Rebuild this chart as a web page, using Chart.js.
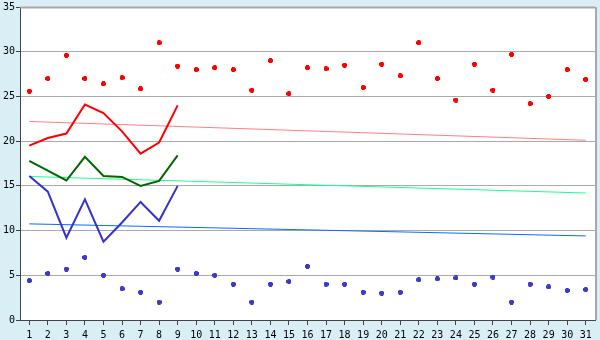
<!DOCTYPE html>
<html>
<head>
<meta charset="utf-8">
<script src="https://cdn.jsdelivr.net/npm/chart.js@4"></script>
<style>
  body { margin: 0; background: #daeff5; }
  canvas { display: block; }
</style>
</head>
<body>
<canvas id="chart" width="600" height="340"></canvas>
<script>
  const days = ["1","2","3","4","5","6","7","8","9","10","11","12","13","14","15","16",
    "17","18","19","20","21","22","23","24","25","26","27","28","29","30","31"];

  const maxPoints = [25.6, 27.0, 29.6, 27.0, 26.4, 27.1, 25.85, 31.0, 28.4, 28.0, 28.2,
    28.0, 25.7, 29.0, 25.3, 28.2, 28.1, 28.5, 26.0, 28.6, 27.3, 31.0, 27.0, 24.6,
    28.6, 25.7, 29.7, 24.2, 25.0, 28.0, 26.9];
  const minPoints = [4.4, 5.2, 5.7, 7.0, 5.0, 3.5, 3.1, 2.0, 5.7, 5.2, 5.0, 4.0, 2.0,
    4.0, 4.3, 6.0, 4.0, 4.0, 3.1, 3.0, 3.1, 4.5, 4.6, 4.7, 4.0, 4.8, 2.0, 4.0, 3.7,
    3.3, 3.4];

  const maxLine = [19.5, 20.35, 20.85, 24.1, 23.15, 21.1, 18.6, 19.85, 24.0];
  const avgLine = [17.8, 16.7, 15.6, 18.25, 16.1, 16.0, 15.0, 15.55, 18.4];
  const minLine = [16.1, 14.35, 9.2, 13.5, 8.75, 10.9, 13.2, 11.1, 15.0];

  // trend lines: value at day 1 and day 31
  const maxTrend = [22.2, 20.1];
  const avgTrend = [16.05, 14.2];
  const minTrend = [10.75, 9.4];

  const yTicks = [0, 5, 10, 15, 20, 25, 30, 35];

  function marker(color) {
    const c = document.createElement("canvas");
    c.width = 5;
    c.height = 5;
    const ctx = c.getContext("2d");
    ctx.fillStyle = color;
    ctx.fillRect(1, 0, 3, 5);
    ctx.fillRect(0, 1, 5, 3);
    ctx.fillRect(2, 0, 1, 5);
    return c;
  }

  function trend(vals) {
    return [{ x: days[0], y: vals[0] }, { x: days[days.length - 1], y: vals[1] }];
  }

  const frame = {
    id: "frame",
    afterDraw(chart) {
      const a = chart.chartArea;
      const ctx = chart.ctx;
      ctx.save();
      ctx.strokeStyle = "#a8a8a8";
      ctx.lineWidth = 2;
      ctx.beginPath();
      ctx.moveTo(a.right + 1, a.top);
      ctx.lineTo(a.right + 1, a.bottom);
      ctx.moveTo(a.left, a.top + 0.5);
      ctx.lineTo(a.right, a.top + 0.5);
      ctx.stroke();
      ctx.restore();
    }
  };

  const whiteArea = {
    id: "whiteArea",
    beforeDraw(chart) {
      const a = chart.chartArea;
      chart.ctx.save();
      chart.ctx.fillStyle = "#ffffff";
      chart.ctx.fillRect(a.left, a.top, a.right - a.left, a.bottom - a.top);
      chart.ctx.restore();
    }
  };

  new Chart(document.getElementById("chart"), {
    type: "line",
    data: {
      labels: days,
      datasets: [
        { data: maxLine, borderColor: "#ff0000", borderWidth: 2, pointRadius: 0, order: 1 },
        { data: avgLine, borderColor: "#006600", borderWidth: 2, pointRadius: 0, order: 1 },
        { data: minLine, borderColor: "#3333cc", borderWidth: 2, pointRadius: 0, order: 1 },
        { data: trend(maxTrend), borderColor: "#ff8080", borderWidth: 1, pointRadius: 0, order: 3 },
        { data: trend(avgTrend), borderColor: "#1aff8c", borderWidth: 1, pointRadius: 0, order: 3 },
        { data: trend(minTrend), borderColor: "#0a6cff", borderWidth: 1, pointRadius: 0, order: 3 },
        {
          data: maxPoints, showLine: false, pointStyle: marker("#ff0000"),
          pointRadius: 3, pointHoverRadius: 3, order: 2
        },
        {
          data: minPoints, showLine: false, pointStyle: marker("#3a3acc"),
          pointRadius: 3, pointHoverRadius: 3, order: 2
        }
      ]
    },
    plugins: [whiteArea, frame],
    options: {
      responsive: false,
      animation: false,
      layout: { padding: { top: 5, right: 5, left: 0, bottom: 0 } },
      plugins: {
        legend: { display: false },
        tooltip: { enabled: false }
      },
      scales: {
        x: {
          offset: true,
          grid: {
            offset: false,
            drawOnChartArea: false,
            drawTicks: true,
            tickLength: 5,
            color: "#444"
          },
          border: { color: "#444", width: 1 },
          ticks: {
            color: "#000",
            padding: 4,
            maxRotation: 0,
            autoSkip: false,
            font: { family: "DejaVu Sans Mono", size: 10 }
          },
          afterFit(scale) { scale.height = 20; }
        },
        y: {
          min: 0,
          max: 35,
          afterBuildTicks(scale) {
            scale.ticks = yTicks.map(v => ({ value: v }));
          },
          grid: {
            color: "#aaaaaa",
            tickColor: "#444",
            tickLength: 4,
            lineWidth: 1
          },
          border: { color: "#444", width: 1 },
          ticks: {
            color: "#000",
            padding: 1,
            font: { family: "DejaVu Sans Mono", size: 10 }
          },
          afterFit(scale) { scale.width = 20; }
        }
      }
    }
  });
</script>
</body>
</html>
